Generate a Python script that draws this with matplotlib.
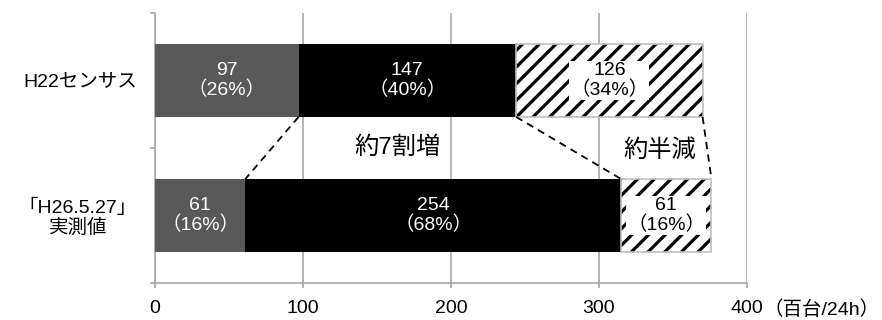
import matplotlib
matplotlib.use("Agg")
import matplotlib.pyplot as plt

plt.rcParams['font.family'] = ['Liberation Sans', 'Noto Sans CJK JP', 'DejaVu Sans']
plt.rcParams['hatch.linewidth'] = 2.3

categories = ["H22センサス", "「H26.5.27」\n実測値"]
seg1 = [97, 61]
seg2 = [147, 254]
seg3 = [126, 61]
pct1 = ["26%", "16%"]
pct2 = ["40%", "68%"]
pct3 = ["34%", "16%"]
xticks = [0, 100, 200, 300, 400]
unit_label = "（百台/24h）"
notes = ["約7割増", "約半減"]

fig = plt.figure(figsize=(8.82, 3.2), dpi=100)
ax = fig.add_axes([155/882, 1-283/320, (747-155)/882, (283-13)/320])

ypos = [0.5, 1.5]
h = 0.54
grey = '#a6a6a6'

ax.barh(ypos, seg1, height=h, color='#595959', edgecolor='none', zorder=3)
ax.barh(ypos, seg2, left=seg1, height=h, color='black', edgecolor='none', zorder=3)
left3 = [a + b for a, b in zip(seg1, seg2)]
ax.barh(ypos, seg3, left=left3, height=h, color='white', edgecolor='black',
        hatch='//', linewidth=0, zorder=3)
ax.barh(ypos, seg3, left=left3, height=h, color='none', edgecolor='#bfbfbf',
        linewidth=1.2, zorder=4)

fs = 14
ls = 1.12
for i, y in enumerate(ypos):
    ax.text(seg1[i]/2, y, f"{seg1[i]}\n（{pct1[i]}）", ha='center', va='center',
            color='white', fontsize=fs, zorder=5, linespacing=ls)
    ax.text(seg1[i] + seg2[i]/2, y, f"{seg2[i]}\n（{pct2[i]}）", ha='center', va='center',
            color='white', fontsize=fs, zorder=5, linespacing=ls)
    ax.text(left3[i] + seg3[i]/2, y, f"{seg3[i]}\n（{pct3[i]}）", ha='center', va='center',
            color='black', fontsize=fs, zorder=5, linespacing=ls,
            bbox=dict(facecolor='white', edgecolor='none', pad=0.5))

# dashed connector lines
ends_top = [seg1[0], left3[0], left3[0] + seg3[0]]
ends_bot = [seg1[1], left3[1], left3[1] + seg3[1]]
for a, b in zip(ends_top, ends_bot):
    ax.plot([a, b], [ypos[0] + h/2, ypos[1] - h/2], ls=(0, (4, 3)), color='black',
            lw=1.3, zorder=6)

ax.text(164, 1.0, notes[0], ha='center', va='center', fontsize=17.5, zorder=6)
ax.text(341, 1.02, notes[1], ha='center', va='center', fontsize=17.5, zorder=6)

ax.set_xlim(0, 400)
ax.set_ylim(2, 0)
ax.set_xticks(xticks)
ax.set_xticklabels([str(t) for t in xticks], fontsize=fs)
ax.set_yticks([0, 1, 2])
ax.set_yticklabels([])
ax.set_yticks(ypos, minor=True)
ax.set_yticklabels(categories, minor=True, fontsize=fs, multialignment='center',
                   linespacing=1.1)
ax.tick_params(axis='y', which='minor', length=0, pad=13)
ax.tick_params(axis='y', which='major', length=3.5, color=grey, width=1.2, direction='out')
ax.tick_params(axis='x', length=3.5, color=grey, width=1.2, direction='out', pad=9)
ax.grid(axis='x', color=grey, lw=1.2, zorder=0)
for s in ['top', 'right']:
    ax.spines[s].set_visible(False)
for s in ['left', 'bottom']:
    ax.spines[s].set_color(grey)
    ax.spines[s].set_linewidth(1.2)

ax.annotate(unit_label, xy=(400, 0), xycoords=('data', 'axes fraction'),
            xytext=(12, -12.5), textcoords='offset points', ha='left', va='top',
            fontsize=fs, annotation_clip=False)
fig.savefig("out.png", dpi=100)
